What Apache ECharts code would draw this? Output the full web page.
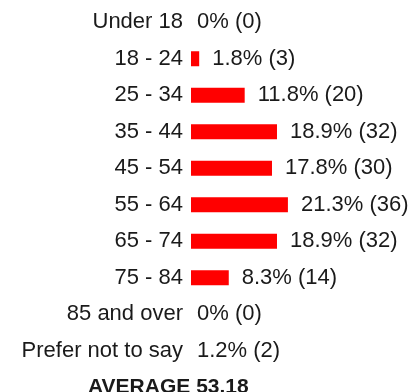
<!DOCTYPE html>
<html>
<head>
<meta charset="utf-8">
<style>
  html, body { margin: 0; padding: 0; background: #fff; }
  #chart { width: 409px; height: 392px; }
</style>
<script src="https://cdn.jsdelivr.net/npm/echarts@6/dist/echarts.min.js"></script>
</head>
<body>
<div id="chart"></div>
<script>
// Age groups of respondents, percent share and response counts
const categories = ['Under 18', '18 - 24', '25 - 34', '35 - 44', '45 - 54', '55 - 64', '65 - 74', '75 - 84', '85 and over', 'Prefer not to say'];
const percents = [0, 1.8, 11.8, 18.9, 17.8, 21.3, 18.9, 8.3, 0, 1.2];
const counts = [0, 3, 20, 32, 30, 36, 32, 14, 0, 2];
const averageAge = 53.18;

const FONT = '"Liberation Sans", Arial, sans-serif';

// "Prefer not to say" is reported without a bar
const showBar = [true, true, true, true, true, true, true, true, true, false];

const seriesData = percents.map((p, i) => {
  const item = { value: showBar[i] ? p : 0, pct: p, count: counts[i] };
  if (!showBar[i] || p === 0) {
    item.label = { distance: 6 };
  }
  return item;
});

const chart = echarts.init(document.getElementById('chart'), null, { renderer: 'canvas' });
chart.setOption({
  animation: false,
  backgroundColor: '#ffffff',
  grid: { left: 191, right: 36, top: 4, bottom: 23, containLabel: false },
  xAxis: {
    type: 'value',
    min: 0,
    max: 40,
    show: false
  },
  yAxis: {
    type: 'category',
    inverse: true,
    data: categories,
    axisLine: { show: false },
    axisTick: { show: false },
    axisLabel: {
      margin: 8,
      color: '#1a1a1a',
      fontFamily: FONT,
      fontSize: 22
    }
  },
  series: [{
    type: 'bar',
    data: seriesData,
    barWidth: 15,
    itemStyle: { color: '#ff0000' },
    label: {
      show: true,
      position: 'right',
      distance: 13,
      color: '#1a1a1a',
      fontFamily: FONT,
      fontSize: 22,
      formatter: (p) => p.data.pct + '% (' + p.data.count + ')'
    }
  }],
  graphic: [{
    type: 'text',
    left: 88,
    top: 377,
    style: {
      text: 'AVERAGE ' + averageAge.toFixed(2),
      fill: '#1a1a1a',
      font: 'bold 21px ' + FONT
    }
  }]
});
</script>
</body>
</html>
